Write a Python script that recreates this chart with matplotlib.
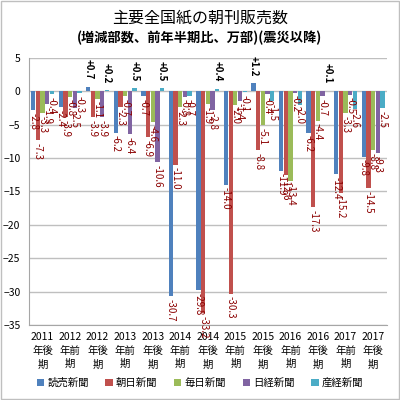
import numpy as np
import matplotlib
matplotlib.use("Agg")
import matplotlib.pyplot as plt
from matplotlib.patches import Rectangle

plt.rcParams['font.family'] = ['Noto Sans CJK JP', 'DejaVu Sans']

# categories (half-year periods)
periods = ["2011\n年後\n期", "2012\n年前\n期", "2012\n年後\n期", "2013\n年前\n期", "2013\n年後\n期",
           "2014\n年前\n期", "2014\n年後\n期", "2015\n年前\n期", "2015\n年後\n期", "2016\n年前\n期",
           "2016\n年後\n期", "2017\n年前\n期", "2017\n年後\n期"]

# change in copies (10k), vs. previous half-year
yomiuri = [-2.8, -2.4, 0.7, -6.2, -0.7, -30.7, -29.8, -14.0, 1.2, -11.9, -6.2, -12.4, -9.8]
asahi = [-7.3, -3.9, -3.9, -2.3, -6.9, -11.0, -33.2, -30.3, -8.8, -12.6, -17.3, -15.2, -14.5]
mainichi = [-3.3, -0.8, -1.1, -0.7, -4.6, -2.3, -1.9, -2.0, -5.1, -13.4, -4.4, -3.3, -8.8]
nikkei = [-1.9, -2.5, -3.9, -6.4, -10.6, -0.8, -2.8, -1.4, -0.4, -0.2, -0.7, -0.5, -9.3]
sankei = [-0.4, -0.3, 0.2, 0.5, 0.5, -0.7, 0.4, -0.1, -1.5, -2.0, 0.1, -2.6, -2.5]

series_names = ["読売新聞", "朝日新聞", "毎日新聞", "日経新聞", "産経新聞"]
series_values = [yomiuri, asahi, mainichi, nikkei, sankei]
colors = ["#4F81BD", "#C0504D", "#9BBB59", "#8064A2", "#4BACC6"]

fig = plt.figure(figsize=(4, 4), dpi=100)
fig.patches.append(Rectangle((0.003, 0.003), 0.994, 0.994, transform=fig.transFigure,
                             fill=False, edgecolor="#BFBFBF", linewidth=1))

fig.text(0.5, 0.955, "主要全国紙の朝刊販売数", ha="center", va="center", fontsize=11.5)
fig.text(0.5, 0.905, "(増減部数、前年半期比、万部)(震災以降)", ha="center", va="center",
         fontsize=9.5, fontweight="bold")

ax = fig.add_axes([0.072, 0.1875, 0.895, 0.668])

x = np.arange(len(periods))
width = 0.17
for k, (name, vals, col) in enumerate(zip(series_names, series_values, colors)):
    pos = x + (k - 2) * width
    ax.bar(pos, vals, width=width * 0.92, color=col, label=name, zorder=3)
    for px, v in zip(pos, vals):
        if v >= 0:
            ax.annotate(f"{v:+.1f}", (px, v), xytext=(0, 5), textcoords="offset points",
                        ha="center", va="bottom", rotation=270, fontsize=7,
                        color="black", fontweight="bold", zorder=4)
        else:
            ax.annotate(f"{v:.1f}", (px, v), xytext=(0, -2), textcoords="offset points",
                        ha="center", va="top", rotation=270, fontsize=7,
                        color="#8B0000", zorder=4)

ax.set_ylim(-35, 5)
ax.set_xlim(-0.5, len(periods) - 0.5)
ax.set_yticks(np.arange(-35, 6, 5))
ax.set_xticks(x)
ax.set_xticklabels(periods, fontsize=7.5, linespacing=1.45)
ax.tick_params(axis="y", labelsize=7.5, length=0, pad=6)
ax.tick_params(axis="x", length=0, pad=5)
ax.grid(axis="y", color="#BFBFBF", linewidth=1, zorder=0)
for side in ["top", "right"]:
    ax.spines[side].set_visible(False)
ax.spines["left"].set_color("#A6A6A6")
ax.spines["bottom"].set_color("#A6A6A6")

fig.legend(loc="center", bbox_to_anchor=(0.5, 0.043), ncol=5, frameon=False,
           fontsize=7.5, handlelength=0.7, handleheight=0.7, handletextpad=0.3,
           columnspacing=1.6)

fig.savefig("out.png", dpi=100)
